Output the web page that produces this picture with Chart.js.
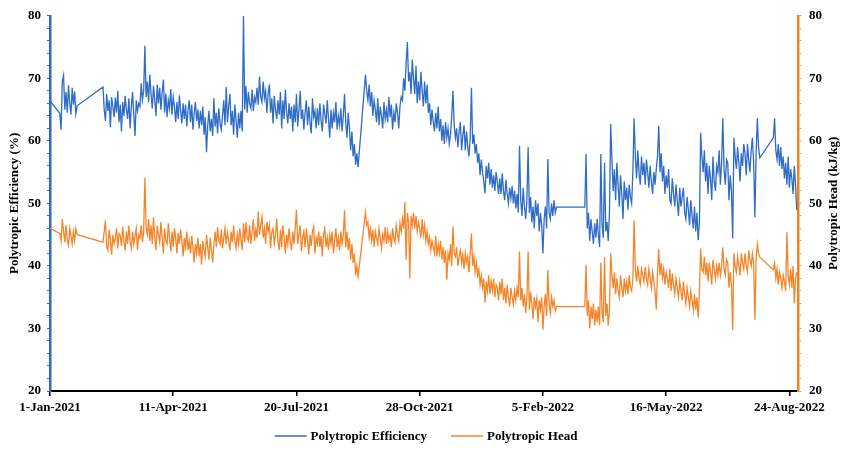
<!DOCTYPE html>
<html><head><meta charset="utf-8">
<script src="https://cdn.jsdelivr.net/npm/chart.js@4.4.1/dist/chart.umd.min.js"></script>
<style>html,body{margin:0;padding:0;background:#fff}#wrap{width:842px;height:449px}</style>
</head><body><div id="wrap"><canvas id="c" width="842" height="449"></canvas></div>
<script>
// x = day offset from 1-Jan-2021
const tickDays = [0,100,200,300,400,500,600];
const tickLabels = ['1-Jan-2021','11-Apr-2021','20-Jul-2021','28-Oct-2021','5-Feb-2022','16-May-2022','24-Aug-2022'];
// daily readings inside each segment [firstDay, lastDay]; straight lines join the segments
const segments = [[0,0],[8,22],[43,250],[256,411],[434,576],[587,606]];
const seriesNames = ['Polytropic Efficiency','Polytropic Head'];

const efficiency = [
66.4,
64.4,61.8,69.5,70.5,65.0,67.8,64.5,68.9,66.0,64.2,68.5,65.8,67.9,64.3,65.6,
68.6,65.0,63.2,67.5,64.8,66.5,62.2,67.0,65.5,63.8,
66.9,64.5,68.0,63.0,65.8,61.5,66.2,64.0,67.2,65.0,
63.5,66.8,62.0,65.5,67.8,64.2,60.8,66.5,64.8,66.0,
65.5,69.2,66.5,68.0,75.2,67.0,69.5,66.2,70.6,67.5,
65.2,68.8,66.5,64.0,69.0,66.0,68.5,65.0,67.8,69.8,
64.5,67.6,63.8,66.5,65.2,68.3,64.2,67.0,65.5,63.0,
66.2,63.5,67.3,64.8,62.8,66.0,63.5,65.8,62.3,64.9,
66.5,63.0,65.8,61.8,64.5,66.2,63.2,65.0,62.0,64.8,
62.5,65.5,61.0,63.8,58.2,62.5,64.8,61.5,63.5,60.8,
66.8,62.3,64.5,61.2,65.2,62.8,61.8,64.0,66.5,62.5,
68.6,63.0,65.5,67.5,62.5,64.8,61.0,65.8,63.2,60.5,64.5,62.0,64.8,61.5,
80.0,
65.0,68.8,64.5,67.8,66.0,65.2,68.2,64.8,67.0,66.2,
68.5,65.8,70.3,67.0,66.2,69.5,66.8,68.0,64.5,67.5,
69.0,64.5,66.8,62.8,67.2,65.0,63.5,66.5,64.2,67.8,
62.0,66.5,63.5,68.2,64.5,62.8,66.0,63.5,65.5,61.5,
65.8,63.0,67.5,62.3,64.8,68.0,63.5,65.0,61.8,64.5,
66.5,62.5,65.5,63.0,61.2,66.8,63.8,64.8,62.0,65.2,
62.5,66.0,63.2,61.5,65.8,64.3,62.8,66.5,63.5,60.5,
65.0,62.0,64.5,63.0,66.2,61.8,64.0,62.5,65.2,61.5,
64.0,67.5,63.0,60.5,64.5,62.0,58.5,61.5,57.5,59.5,56.2,58.0,55.8,
70.6,68.0,66.5,69.0,65.5,67.8,64.0,66.5,65.0,63.0,
66.8,62.5,65.5,64.0,62.0,66.2,63.5,65.0,63.0,67.0,
63.8,65.8,61.8,64.5,63.0,66.0,64.5,62.0,65.5,67.0,
66.5,70.0,68.0,72.5,75.8,69.5,71.0,67.5,73.0,70.0,
67.5,72.0,66.0,69.5,66.5,71.0,68.0,65.5,69.5,66.0,
69.0,64.5,66.0,62.5,65.0,63.0,61.5,64.5,62.0,65.5,
61.5,63.5,60.0,62.5,59.5,63.0,60.5,62.0,59.5,61.0,
64.0,68.0,62.5,60.5,62.0,59.0,61.5,63.0,58.5,60.8,
62.5,58.5,61.5,59.0,57.5,60.5,68.5,59.5,61.0,58.0,
59.5,56.5,58.0,54.5,57.0,55.0,53.5,51.6,56.0,54.0,
56.5,53.0,55.5,52.5,54.5,52.0,55.0,53.5,51.5,54.0,
51.5,54.8,52.0,50.5,53.8,51.5,50.0,52.5,50.8,52.8,
50.0,52.0,49.2,51.5,48.5,59.2,50.5,48.0,52.5,49.5,
47.5,50.5,59.0,48.5,51.0,47.0,49.5,46.0,50.5,48.0,
50.0,45.5,48.5,46.5,42.0,47.5,49.5,46.0,57.1,48.5,
47.5,50.0,48.0,50.5,48.5,49.4,
49.4,57.9,46.0,48.5,44.0,47.5,45.5,43.5,46.8,44.5,
47.5,45.0,43.0,57.9,46.5,44.5,56.5,45.5,47.0,44.0,
48.5,62.7,57.0,52.0,55.5,50.5,56.5,53.0,49.5,54.5,
51.5,47.5,53.5,50.5,52.5,49.0,53.0,51.0,50.0,55.0,
63.6,57.5,54.0,58.5,55.0,53.0,57.5,54.5,56.5,53.0,
57.0,55.0,52.5,56.0,53.5,51.5,55.0,53.0,55.5,57.5,
62.4,55.0,58.0,53.5,56.0,51.5,54.5,52.5,55.5,50.5,
50.0,54.0,51.5,49.5,53.0,50.5,48.0,52.5,49.5,51.0,
52.5,48.5,47.5,51.0,49.0,46.5,50.5,48.0,46.0,49.5,
45.5,48.5,44.1,47.0,61.3,57.5,55.0,58.5,53.5,56.5,
51.5,56.0,54.0,50.5,57.5,53.5,52.0,56.0,55.0,58.5,
53.0,56.5,63.6,55.5,53.0,57.0,56.5,50.5,54.5,52.0,
44.4,60.5,57.5,55.5,59.0,56.5,53.5,58.0,56.0,59.5,
58.0,54.5,59.5,57.0,55.0,58.5,60.5,56.5,47.8,58.0,
63.6,59.0,57.3,
60.5,63.6,58.5,57.0,59.5,56.0,59.0,55.5,57.5,54.0,56.5,53.0,57.5,52.5,55.5,54.0,51.5,56.0,53.0,48.9
];

const head = [
46.0,
45.2,44.0,47.5,45.5,43.8,46.5,44.2,43.3,46.0,44.8,43.5,45.5,44.0,46.0,45.0,
43.8,45.5,47.3,43.0,42.5,45.8,44.2,41.8,45.0,43.5,
44.5,46.0,42.8,45.2,44.8,43.2,46.3,44.0,42.5,45.5,
43.5,46.5,44.0,42.8,45.5,43.5,44.8,46.0,42.5,45.0,
44.5,46.5,43.8,45.5,54.1,46.0,45.0,47.5,44.0,46.5,
43.5,47.8,44.5,42.5,46.5,45.0,43.8,47.0,44.5,42.0,
46.0,44.0,43.5,46.8,44.5,42.3,45.5,43.0,46.0,44.5,
42.0,45.3,43.5,45.8,44.0,41.5,44.5,43.0,45.5,42.5,
44.0,42.0,44.8,43.0,40.5,43.5,42.0,44.5,41.5,43.5,
40.2,44.0,42.5,41.5,45.0,43.0,41.0,44.5,42.5,40.5,
43.5,45.5,43.0,46.2,44.0,43.5,45.8,42.8,44.5,46.0,
43.5,45.3,44.0,42.5,45.5,43.8,46.5,44.0,42.8,45.0,43.5,46.0,44.2,42.5,
46.8,
43.8,47.0,44.5,44.0,46.5,43.5,45.5,47.5,44.0,45.8,
44.5,48.7,45.0,46.5,47.8,44.5,46.0,43.5,47.0,45.5,
46.5,42.8,45.5,46.0,43.5,45.0,47.5,44.0,42.5,45.8,
43.0,46.5,44.5,42.0,45.0,43.5,46.0,44.0,42.5,45.5,
43.5,46.0,49.0,43.5,45.0,46.5,42.3,44.5,45.5,43.0,
46.0,44.0,41.8,45.0,43.2,45.5,46.3,42.0,44.5,43.5,
45.5,43.0,44.8,41.5,45.0,46.0,43.0,44.5,42.5,45.0,
43.5,45.5,42.0,44.0,46.0,43.0,44.5,42.5,45.5,43.5,
45.0,48.9,43.0,45.5,42.5,44.5,41.0,43.5,40.5,42.0,38.5,40.0,38.3,
48.6,46.5,47.0,44.5,46.0,44.0,45.8,43.0,45.5,44.5,
43.5,46.0,44.5,42.8,45.0,44.0,46.2,43.5,45.5,44.0,
45.0,43.0,46.0,44.5,43.8,46.5,45.0,44.0,46.8,45.5,
47.5,46.0,50.2,41.0,48.5,47.0,38.0,48.0,46.5,48.5,
46.0,48.0,45.5,47.0,46.0,44.5,47.5,45.0,46.5,44.0,
45.5,43.5,44.5,42.5,44.0,43.0,42.0,44.8,41.5,43.5,
42.0,44.0,41.0,43.0,40.5,42.5,37.8,42.0,41.0,43.5,
40.0,46.3,42.0,41.5,43.0,40.0,41.5,42.5,40.5,41.8,
39.5,42.0,40.5,41.5,39.0,42.0,45.2,40.0,41.5,39.0,
40.5,38.5,39.5,37.0,38.5,36.5,38.0,34.1,37.5,36.0,
38.5,35.5,37.5,36.0,38.0,35.0,37.0,36.5,34.5,37.5,
35.5,38.0,34.5,36.5,34.0,37.0,35.0,33.5,36.5,35.0,
33.8,36.0,34.5,36.5,35.0,42.3,34.5,36.5,33.5,35.5,
32.5,35.0,42.3,33.0,35.8,34.0,31.5,35.0,33.5,34.8,
31.0,34.5,33.0,35.0,29.8,33.5,35.5,32.0,39.4,34.0,
32.5,35.0,33.5,34.5,32.8,33.5,
33.5,40.2,32.0,34.5,30.0,33.5,31.5,34.0,30.5,33.0,
31.0,33.5,30.5,40.5,32.5,31.0,41.4,32.0,34.0,30.5,
33.0,42.0,38.5,36.5,39.0,35.5,38.0,36.0,35.0,38.5,
36.5,35.0,38.0,36.0,37.5,35.5,38.5,36.5,36.0,38.0,
47.3,39.5,37.5,40.0,38.0,37.0,39.5,38.5,37.5,39.8,
38.0,37.0,39.5,38.0,36.5,39.0,37.5,36.0,33.0,39.0,
42.7,38.5,40.5,38.0,39.5,37.0,39.0,38.0,36.5,39.5,
36.0,38.8,37.0,35.5,38.0,36.5,35.0,37.5,36.0,34.5,
37.5,35.5,34.0,36.5,35.0,33.5,36.0,34.5,33.0,35.5,
33.0,35.0,31.7,36.0,42.8,39.5,39.0,41.5,38.5,40.5,
37.5,40.5,39.0,37.0,41.0,39.5,38.0,40.0,38.5,40.5,
38.5,40.0,43.0,39.5,38.5,41.0,40.5,36.5,39.0,37.0,
29.8,42.0,40.0,39.0,41.5,40.0,38.5,42.0,40.5,39.5,
42.0,40.0,39.0,42.5,41.0,40.0,42.0,40.5,31.4,41.0,
43.5,42.0,41.4,
39.4,40.5,38.0,39.5,37.0,39.0,38.0,36.5,38.5,37.5,36.0,45.4,38.5,37.0,39.5,36.5,40.0,34.0,38.0,39.0
];

const days = [];
segments.forEach(([a,b]) => { for (let d = a; d <= b; d++) days.push(d); });
if (days.length !== efficiency.length || days.length !== head.length) console.error('length mismatch', days.length, efficiency.length, head.length);

const yTickValues = [];
for (let v = 20; v <= 80; v += 2) yTickValues.push(v);

const BLUE = '#2F6CC5', ORANGE = '#F5852A';
const AXBLUE = '#2F6BC4', AXORANGE = '#F58220';
const FONT = {family: '"Liberation Serif","Times New Roman",serif', size: 13, weight: 'bold'};

const overlay = {
  id: 'overlay',
  afterDraw(chart) {
    const ctx = chart.ctx, a = chart.chartArea;
    const cy = (a.top + a.bottom) / 2;
    ctx.save();
    ctx.font = 'bold 13px "Liberation Serif","Times New Roman",serif';
    ctx.fillStyle = '#000';
    ctx.textAlign = 'center';
    ctx.textBaseline = 'middle';
    ctx.save(); ctx.translate(15, cy); ctx.rotate(-Math.PI/2); ctx.fillText('Polytropic Efficiency (%)', 0, 0); ctx.restore();
    ctx.save(); ctx.translate(834, cy); ctx.rotate(-Math.PI/2); ctx.fillText('Polytropic Head (kJ/kg)', 0, 0); ctx.restore();
    const w1 = ctx.measureText(seriesNames[0]).width, w2 = ctx.measureText(seriesNames[1]).width;
    const lw = 32, g = 4, sp = 24;
    const total = lw + g + w1 + sp + lw + g + w2;
    let x = 426 - total / 2; const y = 436;
    ctx.textAlign = 'left';
    ctx.lineWidth = 1.5;
    ctx.strokeStyle = BLUE; ctx.beginPath(); ctx.moveTo(x, y); ctx.lineTo(x + lw, y); ctx.stroke();
    x += lw + g; ctx.fillText(seriesNames[0], x, y + 1); x += w1 + sp;
    ctx.strokeStyle = ORANGE; ctx.beginPath(); ctx.moveTo(x, y); ctx.lineTo(x + lw, y); ctx.stroke();
    x += lw + g; ctx.fillText(seriesNames[1], x, y + 1);
    ctx.restore();
  }
};

new Chart(document.getElementById('c'), {
  type: 'line',
  data: {
    datasets: [
      {label: seriesNames[0], data: days.map((d,i)=>({x:d, y:efficiency[i]})), borderColor: BLUE, borderWidth: 1.3, pointRadius: 0, tension: 0, yAxisID: 'y'},
      {label: seriesNames[1], data: days.map((d,i)=>({x:d, y:head[i]})), borderColor: ORANGE, borderWidth: 1.3, pointRadius: 0, tension: 0, yAxisID: 'y2'}
    ]
  },
  options: {
    responsive: false, animation: false,
    layout: {padding: {top: 14, bottom: 28, left: 0, right: 0}},
    plugins: {legend: {display: false}, tooltip: {enabled: false}},
    scales: {
      x: {
        type: 'linear', min: 0, max: 607,
        afterBuildTicks: s => { s.ticks = tickDays.map(v => ({value: v})); },
        afterFit: s => { s.height = 30; },
        ticks: {font: FONT, color: '#000', maxRotation: 0, autoSkip: false, padding: 4,
          callback: v => { const i = tickDays.indexOf(v); return i >= 0 ? tickLabels[i] : ''; }},
        grid: {drawOnChartArea: false, tickLength: 5, color: '#000', lineWidth: 1.5},
        border: {color: '#000', width: 2}
      },
      y: {
        position: 'left', min: 20, max: 80,
        afterBuildTicks: s => { s.ticks = yTickValues.map(v => ({value: v})); },
        afterFit: s => { s.width = 50; },
        ticks: {font: FONT, color: '#000', autoSkip: false, padding: 6, callback: v => (v % 10 === 0 ? String(v) : '')},
        grid: {drawOnChartArea: false, tickLength: 3, color: AXBLUE, lineWidth: 1},
        border: {color: AXBLUE, width: 2.5}
      },
      y2: {
        position: 'right', min: 20, max: 80,
        afterBuildTicks: s => { s.ticks = yTickValues.map(v => ({value: v})); },
        afterFit: s => { s.width = 44; },
        ticks: {font: FONT, color: '#000', autoSkip: false, padding: 8, callback: v => (v % 10 === 0 ? String(v) : '')},
        grid: {drawOnChartArea: false, tickLength: 3, color: AXORANGE, lineWidth: 1},
        border: {color: AXORANGE, width: 2.5}
      }
    }
  },
  plugins: [overlay]
});
</script></body></html>
